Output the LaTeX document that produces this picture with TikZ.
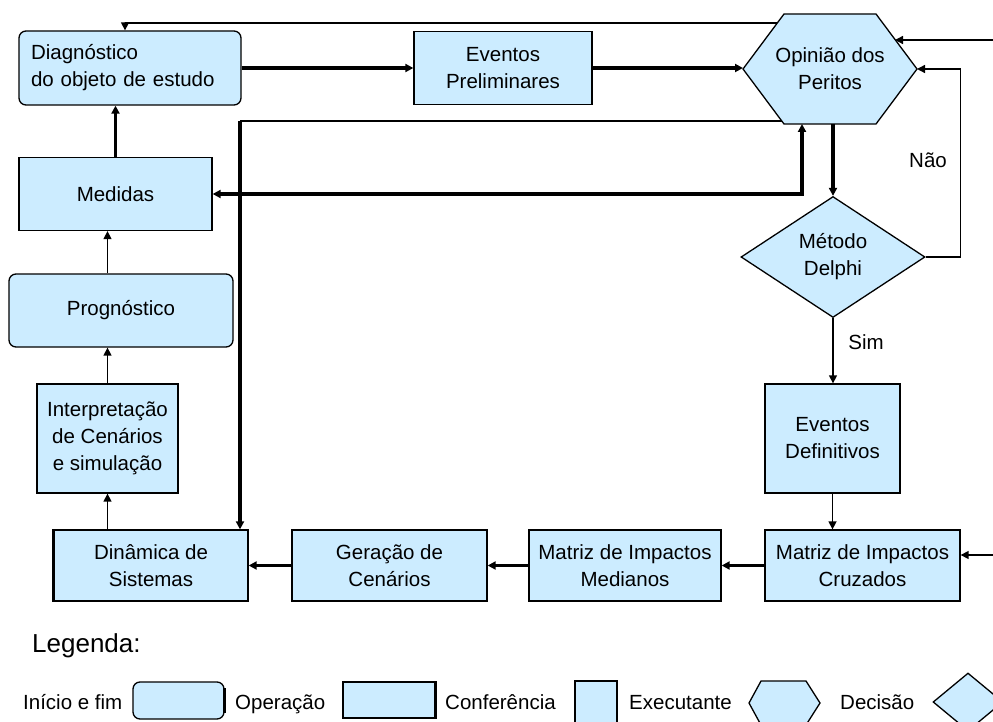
\documentclass[tikz,border=0pt]{standalone}
\usepackage{fontspec}
\setmainfont{Liberation Sans}
\usetikzlibrary{arrows.meta,shapes.geometric,calc}
\definecolor{boxblue}{RGB}{204,236,255}
\begin{document}
\begin{tikzpicture}[x=1pt,y=-1pt,
  every node/.style={font=\fontsize{20.5}{27}\selectfont},
  box/.style={draw, fill=boxblue, line width=1.3pt, inner sep=0pt, align=center},
  rbox/.style={box, rounded corners=7pt},
  thinline/.style={line width=1.4pt},
  thickline/.style={line width=3.4pt},
  arr/.style={-{Triangle[length=8pt,width=8pt]}},
  darr/.style={{Triangle[length=8pt,width=8pt]}-{Triangle[length=8pt,width=8pt]}},
  lbl/.style={inner sep=0pt}
]
\useasboundingbox (0,0) rectangle (993,722);

% --- process nodes ---
\node[rbox, minimum width=222, minimum height=74, text width=198, align=left] (diag) at (130,68) {Diagnóstico\\do objeto de estudo};
\node[box, minimum width=178, minimum height=73] (ep) at (503,68) {Eventos\\Preliminares};
\node[box, minimum width=193, minimum height=73] (med) at (115.5,194) {Medidas};
\node[rbox, minimum width=224, minimum height=73] (prog) at (121,310.5) {Prognóstico};
\node[box, minimum width=141, minimum height=109] (interp) at (107.5,438.5) {Interpretação\\de Cenários\\e simulação};
\node[box, minimum width=194, minimum height=71] (din) at (151,565.5) {Dinâmica de\\Sistemas};
\draw[line width=3.5pt] (din.north west) -- (din.south west);
\node[box, minimum width=195, minimum height=71] (ger) at (389.5,565.5) {Geração de\\Cenários};
\node[box, minimum width=192, minimum height=71] (mm) at (625,565.5) {Matriz de Impactos\\Medianos};
\node[box, minimum width=195, minimum height=71] (mc) at (862.5,565.5) {Matriz de Impactos\\Cruzados};
\node[box, minimum width=135, minimum height=109] (edf) at (832.5,438.5) {Eventos\\Definitivos};
\node[box, diamond, minimum width=184, minimum height=121] (md) at (833,257) {Método\\Delphi};

% hexagon "Opinião dos Peritos"
\coordinate (opL) at (743,69);
\coordinate (opTL) at (784,14);
\coordinate (opTR) at (876,14);
\coordinate (opR) at (917,69);
\coordinate (opBR) at (876,124);
\coordinate (opBL) at (784,124);
\draw[fill=boxblue, line width=1.3pt] (opL) -- (opTL) -- (opTR) -- (opR) -- (opBR) -- (opBL) -- cycle;
\node[lbl, align=center] (op) at (830,69) {Opinião dos\\Peritos};

% attachment points on the hexagon border
\coordinate (t1) at (777,23);
\coordinate (t2) at (782,121);
\coordinate (t3) at (895,40);
\coordinate (b1) at (802,124);
\coordinate (b2) at (833,124);
\coordinate (k) at (240,121);
\coordinate (in1) at (993,40);
\coordinate (in2) at (993,555);

% --- connectors ---
\draw[thickline, arr] (diag.east) -- (ep.west);
\draw[thickline, arr] (ep.east) -- (ep.east -| opL);
\draw[thinline, arr] (t1) -| ([xshift=-5pt]diag.north);
\draw[line width=2pt] (t2) -- (k);
\draw[thickline, arr] (k) -- (k |- din.north);
\draw[thickline, darr] (b1) |- (med.east);
\draw[thickline, arr] (b2) -- (md.north);
\draw[thinline, arr] (md.east) -- ++(35,0) |- (opR);
\node[lbl] (nao) at (928,160) {Não};
\draw[thinline, arr] (in1) -- (t3);
\draw[thinline, arr] (md.south) -- (md.south |- edf.north);
\node[lbl] (sim) at (866,342) {Sim};
\draw[thinline, arr] (edf.south) -- (edf.south |- mc.north);
\draw[thinline, arr] (in2) -- (in2 -| mc.east);
\draw[thickline, arr] (mc.west) -- (mm.east);
\draw[thickline, arr] (mm.west) -- (ger.east);
\draw[thickline, arr] (ger.west) -- (din.east);
\draw[thinline, arr] (interp.south |- din.north) -- (interp.south);
\draw[thinline, arr] (interp.north) -- (interp.north |- prog.south);
\draw[thinline, arr] (interp.north |- prog.north) -- (interp.north |- med.south);
\draw[thickline, arr] (med.north) -- (med.north |- diag.south);

% --- legend ---
\node[lbl, anchor=base west, font=\fontsize{26}{30}\selectfont] (leg) at (32,652) {Legenda:};
\node[lbl, anchor=base west] (l1) at (23,709) {Início e fim};
\node[rbox, minimum width=91, minimum height=37] (s1) at (178.5,700.5) {};
\draw[line width=3pt] ($(s1.north east)+(0,7)$) -- ($(s1.south east)+(0,-7)$);
\node[lbl, anchor=base west] (l2) at (235,709) {Operação};
\node[box, minimum width=92, minimum height=36] (s2) at (389,700) {};
\draw[line width=3pt] (s2.north east) -- (s2.south east);
\node[lbl, anchor=base west] (l3) at (445,709) {Conferência};
\node[box, minimum width=42, minimum height=50] (s3) at (596,706) {};
\node[lbl, anchor=base west] (l4) at (629,709) {Executante};
\coordinate (hL) at (749,703);
\coordinate (hTL) at (761,681);
\coordinate (hTR) at (806,681);
\coordinate (hR) at (820,703);
\coordinate (hBR) at (806,725);
\coordinate (hBL) at (761,725);
\draw[fill=boxblue, line width=1.3pt] (hL) -- (hTL) -- (hTR) -- (hR) -- (hBR) -- (hBL) -- cycle;
\node[lbl, anchor=base west] (l5) at (840,709) {Decisão};
\node[box, diamond, minimum width=70, minimum height=58] (s5) at (968,702) {};
\end{tikzpicture}
\end{document}
